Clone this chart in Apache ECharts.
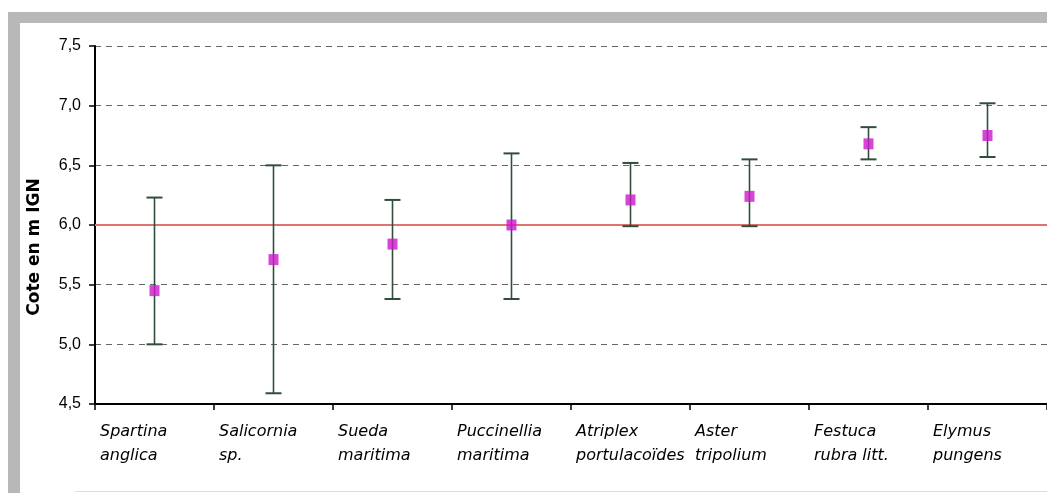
<!DOCTYPE html>
<html>
<head>
<meta charset="utf-8">
<script src="https://cdn.jsdelivr.net/npm/echarts@6/dist/echarts.min.js"></script>
<style>
  html, body { margin: 0; padding: 0; background: #ffffff; }
  #chart { width: 1047px; height: 493px; }
</style>
</head>
<body>
<div id="chart"></div>
<script>
// ---- Data ----
var categories = ['Spartina anglica', 'Salicornia sp.', 'Sueda maritima', 'Puccinellia maritima',
                  'Atriplex portulacoïdes', 'Aster tripolium', 'Festuca rubra litt.', 'Elymus pungens'];
var meanValues = [5.45, 5.71, 5.84, 6.00, 6.21, 6.24, 6.68, 6.75];
var lowValues  = [5.00, 4.59, 5.38, 5.38, 5.99, 5.99, 6.55, 6.57];
var highValues = [6.23, 6.50, 6.21, 6.60, 6.52, 6.55, 6.82, 7.02];
var referenceLevel = 6.0;
var yTicks = { min: 4.5, max: 7.5, interval: 0.5 };
var yTitle = 'Cote en m IGN';

// ---- Chart ----
var chart = echarts.init(document.getElementById('chart'), null, { renderer: 'canvas' });

var errorData = categories.map(function (c, i) { return [i, lowValues[i], highValues[i]]; });

function splitLabel(s) {
  if (!s) return '';
  var k = s.indexOf(' ');
  return k < 0 ? s : s.slice(0, k) + '\n' + s.slice(k + 1);
}

var option = {
  animation: false,
  backgroundColor: '#ffffff',
  grid: { left: 95, right: 0, top: 46, bottom: 89, containLabel: false, outerBoundsMode: 'none' },
  xAxis: [
    {
      type: 'category',
      data: categories,
      boundaryGap: true,
      axisLine: { show: true, lineStyle: { color: '#000', width: 2 } },
      axisTick: { show: true, interval: 0, length: 6, lineStyle: { color: '#000', width: 1.5 } },
      axisLabel: { show: false },
      splitLine: { show: false }
    },
    {
      type: 'category',
      data: categories.concat(['']),
      boundaryGap: false,
      position: 'bottom',
      axisLine: { show: false },
      axisTick: { show: false },
      splitLine: { show: false },
      axisLabel: {
        show: true,
        interval: 0,
        hideOverlap: false,
        align: 'left',
        verticalAlign: 'top',
        margin: 16,
        padding: [0, 0, 0, 5],
        formatter: function (v) { return splitLabel(v); },
        fontFamily: 'DejaVu Sans',
        fontStyle: 'italic',
        fontSize: 16,
        lineHeight: 24,
        color: '#000'
      }
    }
  ],
  yAxis: {
    type: 'value',
    min: yTicks.min,
    max: yTicks.max,
    interval: yTicks.interval,
    axisLine: { show: true, lineStyle: { color: '#000', width: 2 } },
    axisTick: { show: true, length: 6, lineStyle: { color: '#000', width: 1.5 } },
    axisLabel: {
      margin: 14,
      fontFamily: 'Liberation Sans',
      fontSize: 16,
      color: '#000',
      formatter: function (v) { return v.toFixed(1).replace('.', ','); }
    },
    splitLine: { show: true, lineStyle: { color: '#666', width: 1, type: [6, 5] } }
  },
  graphic: [
    { type: 'rect', shape: { x: 8, y: 12, width: 1039, height: 11 }, style: { fill: '#b8b8b8' }, z: 100 },
    { type: 'rect', shape: { x: 8, y: 12, width: 12, height: 481 }, style: { fill: '#b8b8b8' }, z: 100 },
    { type: 'line', shape: { x1: 75, y1: 491.5, x2: 1047, y2: 491.5 }, style: { stroke: '#dddddd', lineWidth: 1 }, z: 100 },
    {
      type: 'text',
      x: 35, y: 247,
      rotation: Math.PI / 2,
      style: {
        text: yTitle,
        font: 'bold 17px "DejaVu Sans"',
        fill: '#000',
        align: 'center',
        verticalAlign: 'middle'
      },
      z: 100
    }
  ],
  series: [
    {
      type: 'custom',
      name: 'range',
      xAxisIndex: 0,
      z: 3,
      data: errorData,
      renderItem: function (params, api) {
        var x = api.value(0);
        var lo = api.coord([x, api.value(1)]);
        var hi = api.coord([x, api.value(2)]);
        var hw = 8;
        var st = { stroke: '#2f4f3a', lineWidth: 1.6 };
        return {
          type: 'group',
          children: [
            { type: 'line', shape: { x1: hi[0], y1: hi[1], x2: lo[0], y2: lo[1] }, style: st },
            { type: 'line', shape: { x1: hi[0] - hw, y1: hi[1], x2: hi[0] + hw, y2: hi[1] }, style: { stroke: '#2f4f3a', lineWidth: 2 } },
            { type: 'line', shape: { x1: lo[0] - hw, y1: lo[1], x2: lo[0] + hw, y2: lo[1] }, style: { stroke: '#2f4f3a', lineWidth: 2 } }
          ]
        };
      }
    },
    {
      type: 'scatter',
      name: 'moyenne',
      xAxisIndex: 0,
      z: 5,
      symbol: 'rect',
      symbolSize: [10, 11],
      itemStyle: { color: '#cc18cc' },
      data: meanValues,
      markLine: {
        silent: true,
        symbol: ['none', 'none'],
        label: { show: false },
        lineStyle: { color: '#e07272', width: 2, type: 'solid' },
        data: [{ yAxis: referenceLevel }],
        z: 2
      }
    }
  ]
};

chart.setOption(option);
</script>
</body>
</html>
